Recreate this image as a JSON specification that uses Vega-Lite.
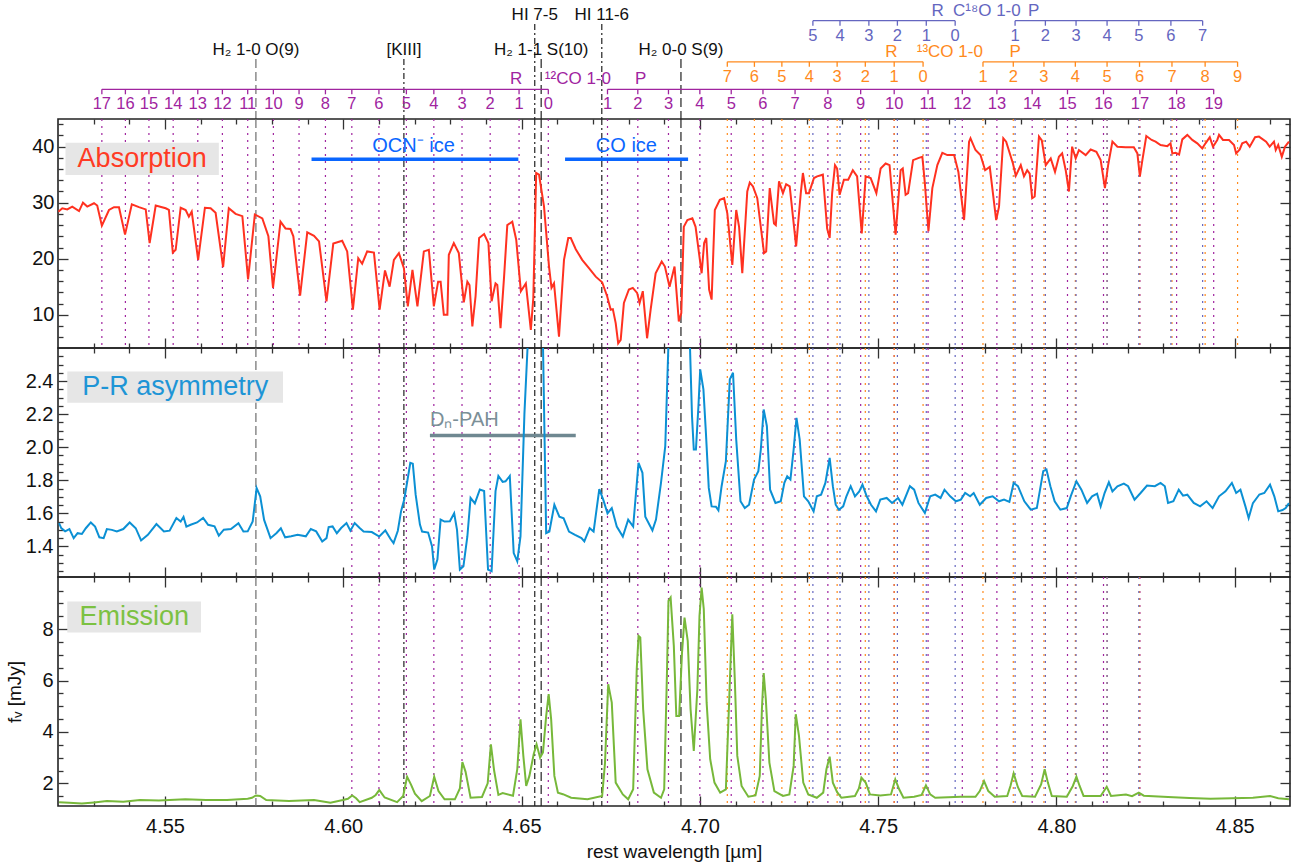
{
  "$schema": "https://vega.github.io/schema/vega-lite/v6.json",
  "background": "white",
  "padding": {"left": 5, "top": 0, "right": 6, "bottom": 0},
  "autosize": {"type": "pad"},
  "spacing": 0,
  "bounds": "flush",
  "config": {
    "font": "Liberation Sans",
    "view": {"stroke": "#222", "strokeWidth": 1.6},
    "axis": {"domain": false, "grid": false, "tickColor": "#333", "tickWidth": 1.3, "labelFont": "Liberation Sans", "labelFontSize": 20, "labelColor": "#111", "titleFont": "Liberation Sans", "titleFontSize": 19, "titleFontWeight": "normal", "titleColor": "#111"},
    "text": {"font": "Liberation Sans"}
  },
  "datasets": {
    "absorption": [
      {"lam":4.5201,"f":28.4},{"lam":4.5212,"f":29.0},{"lam":4.5226,"f":28.8},{"lam":4.5240,"f":29.3},{"lam":4.5259,"f":28.5},{"lam":4.5270,"f":30.0},{"lam":4.5282,"f":29.3},{"lam":4.5301,"f":29.9},{"lam":4.5310,"f":29.5},{"lam":4.5323,"f":25.9},
      {"lam":4.5343,"f":28.7},{"lam":4.5357,"f":29.2},{"lam":4.5371,"f":29.2},{"lam":4.5388,"f":24.3},{"lam":4.5407,"f":29.7},{"lam":4.5427,"f":29.2},{"lam":4.5446,"f":28.8},{"lam":4.5457,"f":22.8},{"lam":4.5474,"f":29.5},{"lam":4.5502,"f":29.0},
      {"lam":4.5511,"f":28.7},{"lam":4.5522,"f":21.1},{"lam":4.5530,"f":21.6},{"lam":4.5544,"f":29.1},{"lam":4.5558,"f":28.7},{"lam":4.5567,"f":27.5},{"lam":4.5575,"f":28.4},{"lam":4.5593,"f":19.8},{"lam":4.5612,"f":29.1},{"lam":4.5628,"f":29.0},
      {"lam":4.5642,"f":28.2},{"lam":4.5663,"f":18.5},{"lam":4.5679,"f":29.0},{"lam":4.5698,"f":28.0},{"lam":4.5717,"f":27.6},{"lam":4.5733,"f":16.3},{"lam":4.5752,"f":27.9},{"lam":4.5773,"f":27.2},{"lam":4.5790,"f":24.0},{"lam":4.5803,"f":14.8},
      {"lam":4.5824,"f":26.6},{"lam":4.5838,"f":25.4},{"lam":4.5852,"f":25.3},{"lam":4.5860,"f":24.0},{"lam":4.5879,"f":13.4},{"lam":4.5899,"f":24.7},{"lam":4.5918,"f":24.1},{"lam":4.5932,"f":23.1},{"lam":4.5953,"f":12.4},{"lam":4.5972,"f":22.7},
      {"lam":4.5997,"f":23.2},{"lam":4.6011,"f":21.3},{"lam":4.6027,"f":10.9},{"lam":4.6042,"f":20.1},{"lam":4.6053,"f":19.1},{"lam":4.6067,"f":21.3},{"lam":4.6086,"f":21.1},{"lam":4.6102,"f":10.9},{"lam":4.6117,"f":17.9},{"lam":4.6130,"f":15.0},
      {"lam":4.6142,"f":19.8},{"lam":4.6156,"f":21.0},{"lam":4.6170,"f":18.3},{"lam":4.6181,"f":11.5},{"lam":4.6194,"f":18.0},{"lam":4.6208,"f":11.5},{"lam":4.6226,"f":21.3},{"lam":4.6240,"f":21.6},{"lam":4.6254,"f":11.5},{"lam":4.6266,"f":15.9},
      {"lam":4.6273,"f":15.9},{"lam":4.6282,"f":10.0},{"lam":4.6292,"f":10.0},{"lam":4.6296,"f":20.7},{"lam":4.6310,"f":22.8},{"lam":4.6324,"f":21.0},{"lam":4.6338,"f":12.2},{"lam":4.6348,"f":15.9},{"lam":4.6354,"f":15.3},{"lam":4.6362,"f":7.9},
      {"lam":4.6371,"f":13.3},{"lam":4.6381,"f":23.7},{"lam":4.6395,"f":24.4},{"lam":4.6407,"f":22.8},{"lam":4.6416,"f":12.4},{"lam":4.6427,"f":15.6},{"lam":4.6432,"f":15.3},{"lam":4.6441,"f":7.6},{"lam":4.6451,"f":16.8},{"lam":4.6460,"f":26.0},
      {"lam":4.6474,"f":26.6},{"lam":4.6485,"f":23.4},{"lam":4.6498,"f":14.2},{"lam":4.6512,"f":15.6},{"lam":4.6526,"f":7.3},{"lam":4.6533,"f":13.0},{"lam":4.6541,"f":35.3},{"lam":4.6549,"f":35.0},{"lam":4.6563,"f":29.3},{"lam":4.6577,"f":18.6},
      {"lam":4.6584,"f":14.8},{"lam":4.6591,"f":15.6},{"lam":4.6605,"f":6.1},{"lam":4.6619,"f":19.8},{"lam":4.6631,"f":23.7},{"lam":4.6638,"f":23.7},{"lam":4.6652,"f":21.7},{"lam":4.6670,"f":19.8},{"lam":4.6689,"f":18.3},{"lam":4.6708,"f":16.8},
      {"lam":4.6726,"f":15.8},{"lam":4.6740,"f":13.3},{"lam":4.6750,"f":10.9},{"lam":4.6756,"f":11.0},{"lam":4.6764,"f":8.5},{"lam":4.6771,"f":4.9},{"lam":4.6778,"f":5.5},{"lam":4.6787,"f":12.1},{"lam":4.6801,"f":14.5},{"lam":4.6812,"f":14.8},
      {"lam":4.6824,"f":13.9},{"lam":4.6831,"f":12.1},{"lam":4.6840,"f":14.2},{"lam":4.6852,"f":5.8},{"lam":4.6862,"f":10.9},{"lam":4.6876,"f":17.4},{"lam":4.6893,"f":19.5},{"lam":4.6902,"f":18.6},{"lam":4.6915,"f":15.0},{"lam":4.6929,"f":18.6},
      {"lam":4.6941,"f":8.8},{"lam":4.6948,"f":10.3},{"lam":4.6955,"f":25.7},{"lam":4.6965,"f":26.9},{"lam":4.6979,"f":27.2},{"lam":4.6988,"f":25.7},{"lam":4.7005,"f":17.4},{"lam":4.7012,"f":22.8},{"lam":4.7018,"f":23.7},{"lam":4.7026,"f":14.5},
      {"lam":4.7033,"f":12.7},{"lam":4.7042,"f":28.7},{"lam":4.7056,"f":30.5},{"lam":4.7068,"f":30.8},{"lam":4.7077,"f":28.1},{"lam":4.7091,"f":18.9},{"lam":4.7102,"f":28.7},{"lam":4.7110,"f":25.7},{"lam":4.7119,"f":17.4},{"lam":4.7133,"f":32.0},
      {"lam":4.7140,"f":33.6},{"lam":4.7149,"f":32.9},{"lam":4.7161,"f":30.8},{"lam":4.7180,"f":21.0},{"lam":4.7186,"f":21.3},{"lam":4.7196,"f":32.6},{"lam":4.7208,"f":26.3},{"lam":4.7213,"f":26.0},{"lam":4.7222,"f":33.8},{"lam":4.7233,"f":31.7},
      {"lam":4.7242,"f":33.3},{"lam":4.7252,"f":32.9},{"lam":4.7270,"f":22.2},{"lam":4.7283,"f":31.7},{"lam":4.7289,"f":35.3},{"lam":4.7298,"f":31.7},{"lam":4.7306,"f":31.7},{"lam":4.7320,"f":34.4},{"lam":4.7329,"f":34.7},{"lam":4.7345,"f":35.0},
      {"lam":4.7357,"f":25.4},{"lam":4.7364,"f":23.7},{"lam":4.7371,"f":31.7},{"lam":4.7379,"f":36.7},{"lam":4.7385,"f":36.1},{"lam":4.7392,"f":31.4},{"lam":4.7404,"f":34.1},{"lam":4.7416,"f":34.1},{"lam":4.7429,"f":35.8},{"lam":4.7441,"f":34.7},
      {"lam":4.7454,"f":24.5},{"lam":4.7465,"f":34.7},{"lam":4.7479,"f":34.4},{"lam":4.7495,"f":31.7},{"lam":4.7507,"f":36.1},{"lam":4.7521,"f":37.0},{"lam":4.7532,"f":36.7},{"lam":4.7549,"f":24.3},{"lam":4.7563,"f":35.8},{"lam":4.7569,"f":36.1},
      {"lam":4.7577,"f":31.4},{"lam":4.7584,"f":31.7},{"lam":4.7598,"f":37.6},{"lam":4.7614,"f":38.0},{"lam":4.7624,"f":38.2},{"lam":4.7631,"f":33.5},{"lam":4.7641,"f":24.9},{"lam":4.7652,"f":32.6},{"lam":4.7666,"f":36.7},{"lam":4.7680,"f":38.9},
      {"lam":4.7694,"f":38.5},{"lam":4.7713,"f":38.5},{"lam":4.7725,"f":35.5},{"lam":4.7741,"f":26.9},{"lam":4.7755,"f":40.9},{"lam":4.7759,"f":41.5},{"lam":4.7773,"f":39.4},{"lam":4.7787,"f":38.5},{"lam":4.7800,"f":35.8},{"lam":4.7813,"f":36.4},
      {"lam":4.7831,"f":26.9},{"lam":4.7839,"f":29.3},{"lam":4.7851,"f":41.5},{"lam":4.7859,"f":40.9},{"lam":4.7878,"f":37.0},{"lam":4.7886,"f":34.8},{"lam":4.7900,"f":36.7},{"lam":4.7909,"f":34.7},{"lam":4.7918,"f":35.8},{"lam":4.7925,"f":35.2},
      {"lam":4.7932,"f":30.8},{"lam":4.7939,"f":31.1},{"lam":4.7951,"f":41.8},{"lam":4.7959,"f":41.1},{"lam":4.7970,"f":36.7},{"lam":4.7984,"f":37.9},{"lam":4.7996,"f":35.5},{"lam":4.8007,"f":38.2},{"lam":4.8016,"f":38.8},{"lam":4.8026,"f":35.8},
      {"lam":4.8035,"f":32.0},{"lam":4.8044,"f":40.0},{"lam":4.8054,"f":37.9},{"lam":4.8063,"f":39.4},{"lam":4.8082,"f":38.5},{"lam":4.8096,"f":39.5},{"lam":4.8112,"f":39.1},{"lam":4.8124,"f":37.6},{"lam":4.8136,"f":32.6},{"lam":4.8145,"f":36.7},
      {"lam":4.8157,"f":40.9},{"lam":4.8171,"f":40.0},{"lam":4.8194,"f":39.9},{"lam":4.8217,"f":39.9},{"lam":4.8227,"f":38.8},{"lam":4.8234,"f":34.7},{"lam":4.8241,"f":37.6},{"lam":4.8252,"f":41.9},{"lam":4.8267,"f":41.2},{"lam":4.8278,"f":40.9},
      {"lam":4.8292,"f":40.3},{"lam":4.8311,"f":40.1},{"lam":4.8320,"f":40.6},{"lam":4.8325,"f":38.8},{"lam":4.8334,"f":38.9},{"lam":4.8344,"f":38.6},{"lam":4.8353,"f":41.3},{"lam":4.8367,"f":42.1},{"lam":4.8381,"f":41.2},{"lam":4.8395,"f":40.6},
      {"lam":4.8409,"f":39.7},{"lam":4.8418,"f":40.6},{"lam":4.8430,"f":41.7},{"lam":4.8439,"f":40.0},{"lam":4.8451,"f":41.2},{"lam":4.8456,"f":42.1},{"lam":4.8467,"f":41.2},{"lam":4.8484,"f":41.2},{"lam":4.8498,"f":40.3},{"lam":4.8504,"f":38.8},
      {"lam":4.8514,"f":39.5},{"lam":4.8521,"f":40.6},{"lam":4.8532,"f":40.9},{"lam":4.8542,"f":40.0},{"lam":4.8557,"f":41.7},{"lam":4.8568,"f":41.8},{"lam":4.8588,"f":40.9},{"lam":4.8598,"f":40.0},{"lam":4.8610,"f":40.9},{"lam":4.8615,"f":39.4},
      {"lam":4.8622,"f":40.3},{"lam":4.8632,"f":38.2},{"lam":4.8641,"f":40.0},{"lam":4.8652,"f":40.9}
    ],
    "asymmetry": [
      {"lam":4.5203,"r":1.541},{"lam":4.5209,"r":1.511},{"lam":4.5220,"r":1.491},{"lam":4.5232,"r":1.505},{"lam":4.5244,"r":1.45},{"lam":4.5255,"r":1.48},{"lam":4.5267,"r":1.475},{"lam":4.5278,"r":1.51},{"lam":4.5292,"r":1.545},{"lam":4.5304,"r":1.52},
      {"lam":4.5316,"r":1.455},{"lam":4.5328,"r":1.45},{"lam":4.5337,"r":1.505},{"lam":4.5351,"r":1.5},{"lam":4.5365,"r":1.49},{"lam":4.5383,"r":1.505},{"lam":4.5401,"r":1.545},{"lam":4.5418,"r":1.51},{"lam":4.5433,"r":1.436},{"lam":4.5452,"r":1.47},
      {"lam":4.5476,"r":1.535},{"lam":4.5497,"r":1.49},{"lam":4.5513,"r":1.495},{"lam":4.5532,"r":1.572},{"lam":4.5544,"r":1.551},{"lam":4.5552,"r":1.578},{"lam":4.5560,"r":1.52},{"lam":4.5572,"r":1.531},{"lam":4.5590,"r":1.545},{"lam":4.5607,"r":1.572},
      {"lam":4.5621,"r":1.531},{"lam":4.5639,"r":1.521},{"lam":4.5651,"r":1.465},{"lam":4.5665,"r":1.501},{"lam":4.5685,"r":1.505},{"lam":4.5706,"r":1.54},{"lam":4.5720,"r":1.49},{"lam":4.5732,"r":1.491},{"lam":4.5746,"r":1.551},{"lam":4.5757,"r":1.753},
      {"lam":4.5767,"r":1.703},{"lam":4.5778,"r":1.56},{"lam":4.5796,"r":1.45},{"lam":4.5813,"r":1.481},{"lam":4.5825,"r":1.51},{"lam":4.5837,"r":1.455},{"lam":4.5854,"r":1.461},{"lam":4.5872,"r":1.47},{"lam":4.5895,"r":1.461},{"lam":4.5909,"r":1.505},
      {"lam":4.5924,"r":1.491},{"lam":4.5941,"r":1.43},{"lam":4.5953,"r":1.45},{"lam":4.5959,"r":1.517},{"lam":4.5970,"r":1.521},{"lam":4.5982,"r":1.48},{"lam":4.5994,"r":1.511},{"lam":4.6009,"r":1.541},{"lam":4.6020,"r":1.495},{"lam":4.6032,"r":1.541},
      {"lam":4.6046,"r":1.511},{"lam":4.6057,"r":1.49},{"lam":4.6080,"r":1.487},{"lam":4.6101,"r":1.46},{"lam":4.6118,"r":1.497},{"lam":4.6133,"r":1.443},{"lam":4.6141,"r":1.42},{"lam":4.6153,"r":1.495},{"lam":4.6162,"r":1.612},{"lam":4.6171,"r":1.683},
      {"lam":4.6180,"r":1.80},{"lam":4.6188,"r":1.905},{"lam":4.6195,"r":1.9},{"lam":4.6203,"r":1.713},{"lam":4.6215,"r":1.532},{"lam":4.6221,"r":1.49},{"lam":4.6238,"r":1.484},{"lam":4.6249,"r":1.40},{"lam":4.6255,"r":1.26},{"lam":4.6264,"r":1.32},
      {"lam":4.6273,"r":1.562},{"lam":4.6284,"r":1.55},{"lam":4.6299,"r":1.552},{"lam":4.6311,"r":1.60},{"lam":4.6319,"r":1.50},{"lam":4.6327,"r":1.26},{"lam":4.6337,"r":1.28},{"lam":4.6348,"r":1.46},{"lam":4.6357,"r":1.693},{"lam":4.6369,"r":1.66},
      {"lam":4.6383,"r":1.744},{"lam":4.6395,"r":1.735},{"lam":4.6406,"r":1.26},{"lam":4.6416,"r":1.25},{"lam":4.6427,"r":1.734},{"lam":4.6435,"r":1.826},{"lam":4.6447,"r":1.79},{"lam":4.6455,"r":1.794},{"lam":4.6467,"r":1.826},{"lam":4.6478,"r":1.36},
      {"lam":4.6488,"r":1.31},{"lam":4.6497,"r":1.46},{"lam":4.6508,"r":2.2},{"lam":4.6520,"r":2.75},{"lam":4.6538,"r":3.3},{"lam":4.6560,"r":2.63},{"lam":4.6569,"r":1.48},{"lam":4.6578,"r":1.49},{"lam":4.6592,"r":1.652},{"lam":4.6606,"r":1.58},
      {"lam":4.6618,"r":1.57},{"lam":4.6633,"r":1.49},{"lam":4.6650,"r":1.47},{"lam":4.6668,"r":1.45},{"lam":4.6676,"r":1.43},{"lam":4.6691,"r":1.51},{"lam":4.6702,"r":1.49},{"lam":4.6718,"r":1.747},{"lam":4.6729,"r":1.683},{"lam":4.6741,"r":1.60},
      {"lam":4.6753,"r":1.632},{"lam":4.6767,"r":1.52},{"lam":4.6784,"r":1.46},{"lam":4.6799,"r":1.562},{"lam":4.6813,"r":1.52},{"lam":4.6828,"r":1.905},{"lam":4.6839,"r":1.845},{"lam":4.6847,"r":1.58},{"lam":4.6867,"r":1.497},{"lam":4.6877,"r":1.562},
      {"lam":4.6891,"r":1.784},{"lam":4.6903,"r":2.006},{"lam":4.6912,"r":2.63},{"lam":4.6941,"r":3.5},{"lam":4.6972,"r":2.63},{"lam":4.6978,"r":2.188},{"lam":4.6983,"r":1.986},{"lam":4.6989,"r":1.986},{"lam":4.6996,"r":2.248},{"lam":4.7001,"r":2.47},
      {"lam":4.7010,"r":2.35},{"lam":4.7017,"r":2.087},{"lam":4.7025,"r":1.754},{"lam":4.7033,"r":1.642},{"lam":4.7045,"r":1.64},{"lam":4.7052,"r":1.618},{"lam":4.7061,"r":1.764},{"lam":4.7073,"r":1.915},{"lam":4.7084,"r":2.41},{"lam":4.7093,"r":2.45},
      {"lam":4.7102,"r":2.046},{"lam":4.7114,"r":1.673},{"lam":4.7126,"r":1.632},{"lam":4.7138,"r":1.652},{"lam":4.7152,"r":1.804},{"lam":4.7164,"r":1.855},{"lam":4.7171,"r":1.986},{"lam":4.7179,"r":2.228},{"lam":4.7188,"r":2.127},{"lam":4.7197,"r":1.743},
      {"lam":4.7212,"r":1.663},{"lam":4.7227,"r":1.673},{"lam":4.7237,"r":1.784},{"lam":4.7245,"r":1.824},{"lam":4.7254,"r":1.804},{"lam":4.7263,"r":1.986},{"lam":4.7271,"r":2.178},{"lam":4.7280,"r":2.046},{"lam":4.7292,"r":1.703},{"lam":4.7304,"r":1.673},
      {"lam":4.7319,"r":1.612},{"lam":4.7328,"r":1.703},{"lam":4.7340,"r":1.713},{"lam":4.7352,"r":1.784},{"lam":4.7364,"r":1.935},{"lam":4.7373,"r":1.764},{"lam":4.7381,"r":1.652},{"lam":4.7390,"r":1.622},{"lam":4.7402,"r":1.642},{"lam":4.7411,"r":1.703},
      {"lam":4.7423,"r":1.764},{"lam":4.7435,"r":1.703},{"lam":4.7447,"r":1.733},{"lam":4.7456,"r":1.774},{"lam":4.7468,"r":1.703},{"lam":4.7480,"r":1.652},{"lam":4.7494,"r":1.612},{"lam":4.7506,"r":1.683},{"lam":4.7524,"r":1.693},{"lam":4.7539,"r":1.663},
      {"lam":4.7556,"r":1.693},{"lam":4.7568,"r":1.652},{"lam":4.7589,"r":1.764},{"lam":4.7601,"r":1.743},{"lam":4.7613,"r":1.663},{"lam":4.7631,"r":1.602},{"lam":4.7646,"r":1.703},{"lam":4.7660,"r":1.713},{"lam":4.7675,"r":1.693},{"lam":4.7686,"r":1.743},
      {"lam":4.7702,"r":1.703},{"lam":4.7718,"r":1.673},{"lam":4.7732,"r":1.683},{"lam":4.7744,"r":1.723},{"lam":4.7758,"r":1.703},{"lam":4.7768,"r":1.723},{"lam":4.7785,"r":1.652},{"lam":4.7803,"r":1.693},{"lam":4.7821,"r":1.703},{"lam":4.7839,"r":1.673},
      {"lam":4.7853,"r":1.683},{"lam":4.7868,"r":1.669},{"lam":4.7880,"r":1.784},{"lam":4.7892,"r":1.764},{"lam":4.7910,"r":1.673},{"lam":4.7928,"r":1.622},{"lam":4.7945,"r":1.632},{"lam":4.7963,"r":1.855},{"lam":4.7972,"r":1.865},{"lam":4.7983,"r":1.764},
      {"lam":4.7995,"r":1.673},{"lam":4.8011,"r":1.622},{"lam":4.8029,"r":1.632},{"lam":4.8040,"r":1.703},{"lam":4.8056,"r":1.794},{"lam":4.8070,"r":1.743},{"lam":4.8086,"r":1.663},{"lam":4.8100,"r":1.703},{"lam":4.8114,"r":1.719},{"lam":4.8124,"r":1.642},
      {"lam":4.8135,"r":1.723},{"lam":4.8147,"r":1.788},{"lam":4.8157,"r":1.733},{"lam":4.8171,"r":1.764},{"lam":4.8189,"r":1.78},{"lam":4.8201,"r":1.764},{"lam":4.8219,"r":1.683},{"lam":4.8236,"r":1.723},{"lam":4.8254,"r":1.768},{"lam":4.8276,"r":1.764},
      {"lam":4.8292,"r":1.784},{"lam":4.8304,"r":1.764},{"lam":4.8313,"r":1.663},{"lam":4.8328,"r":1.673},{"lam":4.8343,"r":1.743},{"lam":4.8355,"r":1.707},{"lam":4.8367,"r":1.713},{"lam":4.8385,"r":1.663},{"lam":4.8403,"r":1.642},{"lam":4.8421,"r":1.673},
      {"lam":4.8438,"r":1.632},{"lam":4.8456,"r":1.703},{"lam":4.8474,"r":1.733},{"lam":4.8492,"r":1.784},{"lam":4.8504,"r":1.723},{"lam":4.8516,"r":1.743},{"lam":4.8530,"r":1.642},{"lam":4.8539,"r":1.572},{"lam":4.8551,"r":1.662},{"lam":4.8569,"r":1.714},
      {"lam":4.8583,"r":1.723},{"lam":4.8599,"r":1.774},{"lam":4.8611,"r":1.703},{"lam":4.8622,"r":1.612},{"lam":4.8634,"r":1.62},{"lam":4.8643,"r":1.632},{"lam":4.8652,"r":1.662}
    ],
    "emission": [
      {"lam":4.5203,"f":1.27},{"lam":4.5231,"f":1.25},{"lam":4.5267,"f":1.22},{"lam":4.5301,"f":1.26},{"lam":4.5337,"f":1.31},{"lam":4.5383,"f":1.29},{"lam":4.5430,"f":1.35},{"lam":4.5483,"f":1.33},{"lam":4.5557,"f":1.38},{"lam":4.5615,"f":1.35},
      {"lam":4.5674,"f":1.35},{"lam":4.5732,"f":1.40},{"lam":4.5744,"f":1.44},{"lam":4.5755,"f":1.53},{"lam":4.5767,"f":1.51},{"lam":4.5784,"f":1.35},{"lam":4.5848,"f":1.31},{"lam":4.5918,"f":1.35},{"lam":4.5964,"f":1.25},{"lam":4.5999,"f":1.35},
      {"lam":4.6013,"f":1.40},{"lam":4.6025,"f":1.53},{"lam":4.6036,"f":1.42},{"lam":4.6046,"f":1.27},{"lam":4.6080,"f":1.44},{"lam":4.6091,"f":1.55},{"lam":4.6101,"f":1.74},{"lam":4.6116,"f":1.45},{"lam":4.6151,"f":1.27},{"lam":4.6168,"f":1.51},
      {"lam":4.6179,"f":2.26},{"lam":4.6190,"f":1.95},{"lam":4.6201,"f":1.60},{"lam":4.6220,"f":1.31},{"lam":4.6243,"f":1.51},{"lam":4.6255,"f":2.26},{"lam":4.6267,"f":1.70},{"lam":4.6284,"f":1.38},{"lam":4.6313,"f":1.38},{"lam":4.6327,"f":1.80},
      {"lam":4.6334,"f":2.83},{"lam":4.6343,"f":2.45},{"lam":4.6357,"f":1.44},{"lam":4.6389,"f":1.47},{"lam":4.6405,"f":2.00},{"lam":4.6414,"f":3.52},{"lam":4.6423,"f":2.50},{"lam":4.6435,"f":1.55},{"lam":4.6447,"f":1.62},{"lam":4.6476,"f":1.52},
      {"lam":4.6488,"f":2.55},{"lam":4.6497,"f":4.49},{"lam":4.6505,"f":3.07},{"lam":4.6513,"f":1.90},{"lam":4.6522,"f":2.29},{"lam":4.6534,"f":3.13},{"lam":4.6542,"f":3.52},{"lam":4.6552,"f":3.00},{"lam":4.6560,"f":3.20},{"lam":4.6569,"f":4.62},
      {"lam":4.6576,"f":5.47},{"lam":4.6583,"f":4.49},{"lam":4.6592,"f":2.29},{"lam":4.6602,"f":1.64},{"lam":4.6616,"f":1.58},{"lam":4.6639,"f":1.44},{"lam":4.6685,"f":1.38},{"lam":4.6726,"f":1.51},{"lam":4.6734,"f":2.80},{"lam":4.6743,"f":5.86},
      {"lam":4.6753,"f":5.14},{"lam":4.6764,"f":2.03},{"lam":4.6784,"f":1.57},{"lam":4.6799,"f":1.38},{"lam":4.6813,"f":1.77},{"lam":4.6823,"f":6.44},{"lam":4.6828,"f":7.74},{"lam":4.6833,"f":7.68},{"lam":4.6841,"f":4.88},{"lam":4.6853,"f":2.55},
      {"lam":4.6871,"f":1.64},{"lam":4.6891,"f":1.44},{"lam":4.6900,"f":1.77},{"lam":4.6908,"f":6.44},{"lam":4.6912,"f":9.10},{"lam":4.6918,"f":9.23},{"lam":4.6927,"f":7.35},{"lam":4.6934,"f":4.62},{"lam":4.6942,"f":4.62},{"lam":4.6950,"f":7.09},
      {"lam":4.6957,"f":8.45},{"lam":4.6966,"f":7.55},{"lam":4.6974,"f":4.88},{"lam":4.6983,"f":3.26},{"lam":4.6993,"f":5.66},{"lam":4.6999,"f":8.52},{"lam":4.7005,"f":9.62},{"lam":4.7011,"f":8.78},{"lam":4.7019,"f":5.14},{"lam":4.7029,"f":2.94},
      {"lam":4.7041,"f":2.03},{"lam":4.7057,"f":1.64},{"lam":4.7073,"f":1.77},{"lam":4.7082,"f":5.14},{"lam":4.7091,"f":8.58},{"lam":4.7098,"f":6.05},{"lam":4.7105,"f":3.07},{"lam":4.7117,"f":1.90},{"lam":4.7136,"f":1.48},{"lam":4.7156,"f":1.53},
      {"lam":4.7168,"f":2.29},{"lam":4.7174,"f":4.88},{"lam":4.7179,"f":6.29},{"lam":4.7185,"f":5.27},{"lam":4.7195,"f":2.81},{"lam":4.7209,"f":1.70},{"lam":4.7233,"f":1.51},{"lam":4.7251,"f":1.57},{"lam":4.7263,"f":2.68},{"lam":4.7269,"f":4.69},
      {"lam":4.7278,"f":3.85},{"lam":4.7290,"f":2.03},{"lam":4.7304,"f":1.57},{"lam":4.7328,"f":1.44},{"lam":4.7346,"f":1.64},{"lam":4.7355,"f":2.55},{"lam":4.7364,"f":3.04},{"lam":4.7373,"f":2.03},{"lam":4.7385,"f":1.66},{"lam":4.7397,"f":1.44},
      {"lam":4.7435,"f":1.51},{"lam":4.7446,"f":1.80},{"lam":4.7453,"f":2.22},{"lam":4.7465,"f":2.03},{"lam":4.7477,"f":1.57},{"lam":4.7506,"f":1.53},{"lam":4.7536,"f":1.57},{"lam":4.7548,"f":2.16},{"lam":4.7559,"f":1.77},{"lam":4.7571,"f":1.44},
      {"lam":4.7601,"f":1.48},{"lam":4.7622,"f":1.55},{"lam":4.7634,"f":1.92},{"lam":4.7646,"f":1.57},{"lam":4.7660,"f":1.44},{"lam":4.7732,"f":1.48},{"lam":4.7773,"f":1.48},{"lam":4.7785,"f":1.70},{"lam":4.7797,"f":2.09},{"lam":4.7809,"f":1.70},
      {"lam":4.7827,"f":1.48},{"lam":4.7862,"f":1.51},{"lam":4.7871,"f":1.90},{"lam":4.7880,"f":2.39},{"lam":4.7892,"f":1.85},{"lam":4.7904,"f":1.51},{"lam":4.7940,"f":1.48},{"lam":4.7957,"f":1.96},{"lam":4.7967,"f":2.55},{"lam":4.7976,"f":2.03},
      {"lam":4.7987,"f":1.51},{"lam":4.8029,"f":1.48},{"lam":4.8046,"f":1.90},{"lam":4.8056,"f":2.26},{"lam":4.8065,"f":1.90},{"lam":4.8076,"f":1.51},{"lam":4.8124,"f":1.51},{"lam":4.8141,"f":1.87},{"lam":4.8153,"f":1.51},{"lam":4.8195,"f":1.57},
      {"lam":4.8212,"f":1.50},{"lam":4.8231,"f":1.64},{"lam":4.8245,"f":1.52},{"lam":4.8313,"f":1.47},{"lam":4.8373,"f":1.43},{"lam":4.8432,"f":1.40},{"lam":4.8492,"f":1.42},{"lam":4.8551,"f":1.44},{"lam":4.8599,"f":1.51},{"lam":4.8622,"f":1.42},
      {"lam":4.8652,"f":1.38}
    ],
    "colines": [
      {"iso":"12CO","branch":"R","J":0,"lam":4.6575},{"iso":"12CO","branch":"R","J":1,"lam":4.6493},{"iso":"12CO","branch":"R","J":2,"lam":4.6412},{"iso":"12CO","branch":"R","J":3,"lam":4.6333},{"iso":"12CO","branch":"R","J":4,"lam":4.6254},{"iso":"12CO","branch":"R","J":5,"lam":4.6177},
      {"iso":"12CO","branch":"R","J":6,"lam":4.6100},{"iso":"12CO","branch":"R","J":7,"lam":4.6024},{"iso":"12CO","branch":"R","J":8,"lam":4.5950},{"iso":"12CO","branch":"R","J":9,"lam":4.5876},{"iso":"12CO","branch":"R","J":10,"lam":4.5804},{"iso":"12CO","branch":"R","J":11,"lam":4.5732},
      {"iso":"12CO","branch":"R","J":12,"lam":4.5661},{"iso":"12CO","branch":"R","J":13,"lam":4.5592},{"iso":"12CO","branch":"R","J":14,"lam":4.5523},{"iso":"12CO","branch":"R","J":15,"lam":4.5455},{"iso":"12CO","branch":"R","J":16,"lam":4.5389},{"iso":"12CO","branch":"R","J":17,"lam":4.5323},
      {"iso":"12CO","branch":"P","J":1,"lam":4.6741},{"iso":"12CO","branch":"P","J":2,"lam":4.6826},{"iso":"12CO","branch":"P","J":3,"lam":4.6912},{"iso":"12CO","branch":"P","J":4,"lam":4.7000},{"iso":"12CO","branch":"P","J":5,"lam":4.7088},{"iso":"12CO","branch":"P","J":6,"lam":4.7177},
      {"iso":"12CO","branch":"P","J":7,"lam":4.7267},{"iso":"12CO","branch":"P","J":8,"lam":4.7359},{"iso":"12CO","branch":"P","J":9,"lam":4.7451},{"iso":"12CO","branch":"P","J":10,"lam":4.7545},{"iso":"12CO","branch":"P","J":11,"lam":4.7640},{"iso":"12CO","branch":"P","J":12,"lam":4.7736},
      {"iso":"12CO","branch":"P","J":13,"lam":4.7833},{"iso":"12CO","branch":"P","J":14,"lam":4.7932},{"iso":"12CO","branch":"P","J":15,"lam":4.8031},{"iso":"12CO","branch":"P","J":16,"lam":4.8132},{"iso":"12CO","branch":"P","J":17,"lam":4.8234},{"iso":"12CO","branch":"P","J":18,"lam":4.8337},
      {"iso":"12CO","branch":"P","J":19,"lam":4.8441},
      {"iso":"13CO","branch":"R","J":0,"lam":4.7626},{"iso":"13CO","branch":"R","J":1,"lam":4.7545},{"iso":"13CO","branch":"R","J":2,"lam":4.7464},{"iso":"13CO","branch":"R","J":3,"lam":4.7385},{"iso":"13CO","branch":"R","J":4,"lam":4.7307},{"iso":"13CO","branch":"R","J":5,"lam":4.7230},
      {"iso":"13CO","branch":"R","J":6,"lam":4.7153},{"iso":"13CO","branch":"R","J":7,"lam":4.7077},
      {"iso":"13CO","branch":"P","J":1,"lam":4.7794},{"iso":"13CO","branch":"P","J":2,"lam":4.7879},{"iso":"13CO","branch":"P","J":3,"lam":4.7965},{"iso":"13CO","branch":"P","J":4,"lam":4.8053},{"iso":"13CO","branch":"P","J":5,"lam":4.8142},{"iso":"13CO","branch":"P","J":6,"lam":4.8233},
      {"iso":"13CO","branch":"P","J":7,"lam":4.8324},{"iso":"13CO","branch":"P","J":8,"lam":4.8417},{"iso":"13CO","branch":"P","J":9,"lam":4.8508},
      {"iso":"C18O","branch":"R","J":0,"lam":4.7716},{"iso":"C18O","branch":"R","J":1,"lam":4.7635},{"iso":"C18O","branch":"R","J":2,"lam":4.7554},{"iso":"C18O","branch":"R","J":3,"lam":4.7474},{"iso":"C18O","branch":"R","J":4,"lam":4.7393},{"iso":"C18O","branch":"R","J":5,"lam":4.7317},
      {"iso":"C18O","branch":"P","J":1,"lam":4.7884},{"iso":"C18O","branch":"P","J":2,"lam":4.7969},{"iso":"C18O","branch":"P","J":3,"lam":4.8055},{"iso":"C18O","branch":"P","J":4,"lam":4.8142},{"iso":"C18O","branch":"P","J":5,"lam":4.8231},{"iso":"C18O","branch":"P","J":6,"lam":4.8321},
      {"iso":"C18O","branch":"P","J":7,"lam":4.8410}
    ],
    "brackets": [
      {"iso":"12CO","branch":"R","lo":4.5323,"hi":4.6575},{"iso":"12CO","branch":"P","lo":4.6741,"hi":4.8441},
      {"iso":"13CO","branch":"R","lo":4.7077,"hi":4.7626},{"iso":"13CO","branch":"P","lo":4.7794,"hi":4.8508},
      {"iso":"C18O","branch":"R","lo":4.7317,"hi":4.7716},{"iso":"C18O","branch":"P","lo":4.7884,"hi":4.8410}
    ],
    "isolabels": [
      {"iso":"12CO","text":"R","lam":4.6485},{"iso":"12CO","text":"¹²CO 1-0","lam":4.6658},{"iso":"12CO","text":"P","lam":4.6834},
      {"iso":"13CO","text":"R","lam":4.7537},{"iso":"13CO","text":"¹³CO 1-0","lam":4.7701},{"iso":"13CO","text":"P","lam":4.7884},
      {"iso":"C18O","text":"R","lam":4.7667},{"iso":"C18O","text":"C¹⁸O 1-0","lam":4.7805},{"iso":"C18O","text":"P","lam":4.7936}
    ],
    "atomic": [
      {"name":"H₂ 1-0 O(9)","lam":4.5755,"species":"H2","tier":"lower"},
      {"name":"[KIII]","lam":4.6170,"species":"K","tier":"lower"},
      {"name":"HI 7-5","lam":4.6537,"species":"HI","tier":"upper"},
      {"name":"H₂ 1-1 S(10)","lam":4.6555,"species":"H2","tier":"lower"},
      {"name":"HI 11-6","lam":4.6725,"species":"HI","tier":"upper"},
      {"name":"H₂ 0-0 S(9)","lam":4.6947,"species":"H2","tier":"lower"}
    ],
    "ices": [
      {"name":"OCN⁻ ice","lo":4.5911,"hi":4.6491,"mid":4.6197,"level":37.75},
      {"name":"CO ice","lo":4.6622,"hi":4.6967,"mid":4.6794,"level":37.75}
    ],
    "pah": [
      {"name":"Dₙ-PAH","lo":4.6243,"hi":4.6652,"level":2.071}
    ]
  },
  "vconcat": [
    {
      "width": 1232,
      "height": 119,
      "view": {"stroke": null},
      "resolve": {"scale": {"y": "independent"}},
      "layer": [
        {
          "data": {"name": "atomic"},
          "mark": {"type": "rule", "yOffset": 9, "strokeWidth": 1.2},
          "encoding": {
            "x": {"field": "lam", "type": "quantitative", "scale": {"domain": [4.52, 4.8655], "nice": false, "zero": false}, "axis": null},
            "y": {"field": "tier", "type": "nominal", "scale": {"type": "point", "domain": ["upper", "lower"], "range": [15, 50], "padding": 0}, "axis": null},
            "y2": {"value": "height"},
            "stroke": {"field": "name", "type": "nominal", "scale": {"domain": ["H₂ 1-0 O(9)", "[KIII]", "HI 7-5", "H₂ 1-1 S(10)", "HI 11-6", "H₂ 0-0 S(9)"], "range": ["#6e6e6e", "#222", "#222", "#222", "#222", "#222"]}, "legend": null},
            "strokeDash": {"field": "species", "type": "nominal", "scale": {"domain": ["H2", "HI", "K"], "range": [[9, 4], [6, 3, 2, 3], [6, 3, 2, 3]]}, "legend": null}
          }
        },
        {
          "data": {"name": "atomic"},
          "mark": {"type": "text", "fontSize": 17, "color": "#111", "baseline": "middle"},
          "encoding": {
            "x": {"field": "lam", "type": "quantitative", "axis": null},
            "y": {"field": "tier", "type": "nominal", "scale": {"type": "point", "domain": ["upper", "lower"], "range": [15, 50], "padding": 0}, "axis": null},
            "text": {"field": "name"}
          }
        },
        {
          "data": {"name": "brackets"},
          "mark": {"type": "rule", "strokeWidth": 1.3},
          "encoding": {
            "x": {"field": "lo", "type": "quantitative", "axis": null},
            "x2": {"field": "hi"},
            "y": {"field": "iso", "type": "nominal", "scale": {"type": "point", "domain": ["C18O", "gap1", "gap2", "13CO", "gap3", "12CO"], "range": [20.7, 89.3], "padding": 0}, "axis": null},
            "color": {"field": "iso", "type": "nominal", "scale": {"domain": ["12CO", "13CO", "C18O"], "range": ["#a0249f", "#ff8a1c", "#6466c0"]}, "legend": null}
          }
        },
        {
          "data": {"name": "colines"},
          "mark": {"type": "rule", "strokeWidth": 1.3, "y2Offset": 5},
          "encoding": {
            "x": {"field": "lam", "type": "quantitative", "axis": null},
            "y": {"field": "iso", "type": "nominal", "scale": {"type": "point", "domain": ["C18O", "gap1", "gap2", "13CO", "gap3", "12CO"], "range": [20.7, 89.3], "padding": 0}, "axis": null},
            "y2": {"field": "iso"},
            "color": {"field": "iso", "type": "nominal", "scale": {"domain": ["12CO", "13CO", "C18O"], "range": ["#a0249f", "#ff8a1c", "#6466c0"]}, "legend": null}
          }
        },
        {
          "data": {"name": "colines"},
          "mark": {"type": "text", "fontSize": 16.5, "dy": 15, "baseline": "middle"},
          "encoding": {
            "x": {"field": "lam", "type": "quantitative", "axis": null},
            "y": {"field": "iso", "type": "nominal", "scale": {"type": "point", "domain": ["C18O", "gap1", "gap2", "13CO", "gap3", "12CO"], "range": [20.7, 89.3], "padding": 0}, "axis": null},
            "text": {"field": "J", "type": "quantitative"},
            "color": {"field": "iso", "type": "nominal", "scale": {"domain": ["12CO", "13CO", "C18O"], "range": ["#a0249f", "#ff8a1c", "#6466c0"]}, "legend": null}
          }
        },
        {
          "data": {"name": "isolabels"},
          "mark": {"type": "text", "fontSize": 17, "dy": -10, "baseline": "middle"},
          "encoding": {
            "x": {"field": "lam", "type": "quantitative", "axis": null},
            "y": {"field": "iso", "type": "nominal", "scale": {"type": "point", "domain": ["C18O", "gap1", "gap2", "13CO", "gap3", "12CO"], "range": [20.7, 89.3], "padding": 0}, "axis": null},
            "text": {"field": "text"},
            "color": {"field": "iso", "type": "nominal", "scale": {"domain": ["12CO", "13CO", "C18O"], "range": ["#a0249f", "#ff8a1c", "#6466c0"]}, "legend": null}
          }
        }
      ]
    },
    {
      "width": 1232,
      "height": 229,
      "resolve": {"axis": {"x": "independent", "y": "independent"}},
      "layer": [
        {
          "data": {"values": []},
          "mark": {"type": "point", "opacity": 0},
          "encoding": {
            "x": {"field": "w", "type": "quantitative", "scale": {"domain": [4.52, 4.8655], "nice": false, "zero": false}, "axis": {"orient": "bottom", "values": [4.55, 4.6, 4.65, 4.7, 4.75, 4.8, 4.85], "tickSize": -10, "labels": false, "title": null}},
            "y": {"field": "v", "type": "quantitative", "scale": {"domain": [4.06, 44.94], "nice": false, "zero": false}, "axis": {"orient": "left", "values": [10, 20, 30, 40], "tickSize": -10, "labelPadding": 14, "title": null}}
          }
        },
        {
          "data": {"values": []},
          "mark": {"type": "point", "opacity": 0},
          "encoding": {
            "x": {"field": "w", "type": "quantitative", "axis": {"orient": "top", "values": [4.55, 4.6, 4.65, 4.7, 4.75, 4.8, 4.85], "tickSize": -10, "labels": false, "title": null}},
            "y": {"field": "v", "type": "quantitative", "axis": {"orient": "right", "values": [10, 20, 30, 40], "tickSize": -10, "labels": false, "title": null}}
          }
        },
        {
          "data": {"values": []},
          "mark": {"type": "point", "opacity": 0},
          "encoding": {
            "x": {"field": "w", "type": "quantitative", "axis": {"orient": "bottom", "values": [4.53, 4.54, 4.56, 4.57, 4.58, 4.59, 4.61, 4.62, 4.63, 4.64, 4.66, 4.67, 4.68, 4.69, 4.71, 4.72, 4.73, 4.74, 4.76, 4.77, 4.78, 4.79, 4.81, 4.82, 4.83, 4.84, 4.86], "tickSize": -5, "labels": false, "title": null}},
            "y": {"field": "v", "type": "quantitative", "axis": {"orient": "left", "values": [6, 8, 12, 14, 16, 18, 22, 24, 26, 28, 32, 34, 36, 38, 42, 44], "tickSize": -5, "labels": false, "title": null}}
          }
        },
        {
          "data": {"values": []},
          "mark": {"type": "point", "opacity": 0},
          "encoding": {
            "x": {"field": "w", "type": "quantitative", "axis": {"orient": "top", "values": [4.53, 4.54, 4.56, 4.57, 4.58, 4.59, 4.61, 4.62, 4.63, 4.64, 4.66, 4.67, 4.68, 4.69, 4.71, 4.72, 4.73, 4.74, 4.76, 4.77, 4.78, 4.79, 4.81, 4.82, 4.83, 4.84, 4.86], "tickSize": -5, "labels": false, "title": null}},
            "y": {"field": "v", "type": "quantitative", "axis": {"orient": "right", "values": [6, 8, 12, 14, 16, 18, 22, 24, 26, 28, 32, 34, 36, 38, 42, 44], "tickSize": -5, "labels": false, "title": null}}
          }
        },
        {
          "data": {"name": "colines"},
          "mark": {"type": "rule", "strokeWidth": 1.2, "strokeDash": [2, 5]},
          "encoding": {
            "x": {"field": "lam", "type": "quantitative", "axis": null},
            "color": {"field": "iso", "type": "nominal", "scale": {"domain": ["12CO", "13CO", "C18O"], "range": ["#a0249f", "#ff8a1c", "#6466c0"]}, "legend": null}
          }
        },
        {
          "data": {"name": "atomic"},
          "mark": {"type": "rule", "strokeWidth": 1.2},
          "encoding": {
            "x": {"field": "lam", "type": "quantitative", "axis": null},
            "stroke": {"field": "name", "type": "nominal", "scale": {"domain": ["H₂ 1-0 O(9)", "[KIII]", "HI 7-5", "H₂ 1-1 S(10)", "HI 11-6", "H₂ 0-0 S(9)"], "range": ["#6e6e6e", "#222", "#222", "#222", "#222", "#222"]}, "legend": null},
            "strokeDash": {"field": "species", "type": "nominal", "scale": {"domain": ["H2", "HI", "K"], "range": [[9, 4], [6, 3, 2, 3], [6, 3, 2, 3]]}, "legend": null}
          }
        },
        {
          "data": {"name": "ices"},
          "mark": {"type": "rule", "strokeWidth": 3.5, "color": "#0a66ff"},
          "encoding": {
            "x": {"field": "lo", "type": "quantitative", "axis": null},
            "x2": {"field": "hi"},
            "y": {"field": "level", "type": "quantitative", "axis": null}
          }
        },
        {
          "data": {"name": "ices"},
          "mark": {"type": "text", "fontSize": 20, "color": "#0a66ff", "dy": -13, "baseline": "middle"},
          "encoding": {
            "x": {"field": "mid", "type": "quantitative", "axis": null},
            "y": {"field": "level", "type": "quantitative", "axis": null},
            "text": {"field": "name"}
          }
        },
        {
          "data": {"values": [{}]},
          "mark": {"type": "rect", "color": "#e6e6e6"},
          "encoding": {
            "x": {"datum": 4.5221, "type": "quantitative", "axis": null},
            "x2": {"datum": 4.5651},
            "y": {"datum": 34.95, "type": "quantitative", "axis": null},
            "y2": {"datum": 40.72}
          }
        },
        {
          "data": {"values": [{}]},
          "mark": {"type": "text", "fontSize": 27, "color": "#ff3b24", "baseline": "middle", "text": "Absorption"},
          "encoding": {
            "x": {"datum": 4.5436, "type": "quantitative", "axis": null},
            "y": {"datum": 37.84, "type": "quantitative", "axis": null}
          }
        },
        {
          "data": {"name": "absorption"},
          "mark": {"type": "line", "color": "#ff3120", "strokeWidth": 2, "clip": true},
          "encoding": {
            "x": {"field": "lam", "type": "quantitative", "axis": null},
            "y": {"field": "f", "type": "quantitative", "axis": null}
          }
        }
      ]
    },
    {
      "width": 1232,
      "height": 229,
      "resolve": {"axis": {"x": "independent", "y": "independent"}},
      "layer": [
        {
          "data": {"values": []},
          "mark": {"type": "point", "opacity": 0},
          "encoding": {
            "x": {"field": "w", "type": "quantitative", "scale": {"domain": [4.52, 4.8655], "nice": false, "zero": false}, "axis": {"orient": "bottom", "values": [4.55, 4.6, 4.65, 4.7, 4.75, 4.8, 4.85], "tickSize": -10, "labels": false, "title": null}},
            "y": {"field": "v", "type": "quantitative", "scale": {"domain": [1.215, 2.6], "nice": false, "zero": false}, "axis": {"orient": "left", "values": [1.4, 1.6, 1.8, 2.0, 2.2, 2.4], "format": ".1f", "tickSize": -10, "labelPadding": 15, "title": null}}
          }
        },
        {
          "data": {"values": []},
          "mark": {"type": "point", "opacity": 0},
          "encoding": {
            "x": {"field": "w", "type": "quantitative", "axis": {"orient": "top", "values": [4.55, 4.6, 4.65, 4.7, 4.75, 4.8, 4.85], "tickSize": -10, "labels": false, "title": null}},
            "y": {"field": "v", "type": "quantitative", "axis": {"orient": "right", "values": [1.4, 1.6, 1.8, 2.0, 2.2, 2.4], "tickSize": -10, "labels": false, "title": null}}
          }
        },
        {
          "data": {"values": []},
          "mark": {"type": "point", "opacity": 0},
          "encoding": {
            "x": {"field": "w", "type": "quantitative", "axis": {"orient": "bottom", "values": [4.53, 4.54, 4.56, 4.57, 4.58, 4.59, 4.61, 4.62, 4.63, 4.64, 4.66, 4.67, 4.68, 4.69, 4.71, 4.72, 4.73, 4.74, 4.76, 4.77, 4.78, 4.79, 4.81, 4.82, 4.83, 4.84, 4.86], "tickSize": -5, "labels": false, "title": null}},
            "y": {"field": "v", "type": "quantitative", "axis": {"orient": "left", "values": [1.25, 1.3, 1.35, 1.45, 1.5, 1.55, 1.65, 1.7, 1.75, 1.85, 1.9, 1.95, 2.05, 2.1, 2.15, 2.25, 2.3, 2.35, 2.45, 2.5, 2.55], "tickSize": -5, "labels": false, "title": null}}
          }
        },
        {
          "data": {"values": []},
          "mark": {"type": "point", "opacity": 0},
          "encoding": {
            "x": {"field": "w", "type": "quantitative", "axis": {"orient": "top", "values": [4.53, 4.54, 4.56, 4.57, 4.58, 4.59, 4.61, 4.62, 4.63, 4.64, 4.66, 4.67, 4.68, 4.69, 4.71, 4.72, 4.73, 4.74, 4.76, 4.77, 4.78, 4.79, 4.81, 4.82, 4.83, 4.84, 4.86], "tickSize": -5, "labels": false, "title": null}},
            "y": {"field": "v", "type": "quantitative", "axis": {"orient": "right", "values": [1.25, 1.3, 1.35, 1.45, 1.5, 1.55, 1.65, 1.7, 1.75, 1.85, 1.9, 1.95, 2.05, 2.1, 2.15, 2.25, 2.3, 2.35, 2.45, 2.5, 2.55], "tickSize": -5, "labels": false, "title": null}}
          }
        },
        {
          "data": {"name": "colines"},
          "transform": [{"filter": "datum.lam >= 4.60 && datum.lam <= 4.806"}],
          "mark": {"type": "rule", "strokeWidth": 1.2, "strokeDash": [2, 5]},
          "encoding": {
            "x": {"field": "lam", "type": "quantitative", "axis": null},
            "color": {"field": "iso", "type": "nominal", "scale": {"domain": ["12CO", "13CO", "C18O"], "range": ["#a0249f", "#ff8a1c", "#6466c0"]}, "legend": null}
          }
        },
        {
          "data": {"name": "atomic"},
          "mark": {"type": "rule", "strokeWidth": 1.2},
          "encoding": {
            "x": {"field": "lam", "type": "quantitative", "axis": null},
            "stroke": {"field": "name", "type": "nominal", "scale": {"domain": ["H₂ 1-0 O(9)", "[KIII]", "HI 7-5", "H₂ 1-1 S(10)", "HI 11-6", "H₂ 0-0 S(9)"], "range": ["#6e6e6e", "#222", "#222", "#222", "#222", "#222"]}, "legend": null},
            "strokeDash": {"field": "species", "type": "nominal", "scale": {"domain": ["H2", "HI", "K"], "range": [[9, 4], [6, 3, 2, 3], [6, 3, 2, 3]]}, "legend": null}
          }
        },
        {
          "data": {"name": "pah"},
          "mark": {"type": "rule", "strokeWidth": 3.5, "color": "#6f8891"},
          "encoding": {
            "x": {"field": "lo", "type": "quantitative", "axis": null},
            "x2": {"field": "hi"},
            "y": {"field": "level", "type": "quantitative", "axis": null}
          }
        },
        {
          "data": {"name": "pah"},
          "mark": {"type": "text", "fontSize": 20, "color": "#7b8f97", "dy": -15, "align": "left", "baseline": "middle"},
          "encoding": {
            "x": {"field": "lo", "type": "quantitative", "axis": null},
            "y": {"field": "level", "type": "quantitative", "axis": null},
            "text": {"field": "name"}
          }
        },
        {
          "data": {"values": [{}]},
          "mark": {"type": "rect", "color": "#e6e6e6"},
          "encoding": {
            "x": {"datum": 4.5226, "type": "quantitative", "axis": null},
            "x2": {"datum": 4.5831},
            "y": {"datum": 2.2687, "type": "quantitative", "axis": null},
            "y2": {"datum": 2.4586}
          }
        },
        {
          "data": {"values": [{}]},
          "mark": {"type": "text", "fontSize": 27, "color": "#1e95d6", "baseline": "middle", "text": "P-R asymmetry"},
          "encoding": {
            "x": {"datum": 4.5529, "type": "quantitative", "axis": null},
            "y": {"datum": 2.3636, "type": "quantitative", "axis": null}
          }
        },
        {
          "data": {"name": "asymmetry"},
          "mark": {"type": "line", "color": "#0b90d4", "strokeWidth": 2, "clip": true},
          "encoding": {
            "x": {"field": "lam", "type": "quantitative", "axis": null},
            "y": {"field": "r", "type": "quantitative", "axis": null}
          }
        }
      ]
    },
    {
      "width": 1232,
      "height": 229,
      "resolve": {"axis": {"x": "independent", "y": "independent"}},
      "layer": [
        {
          "data": {"values": []},
          "mark": {"type": "point", "opacity": 0},
          "encoding": {
            "x": {"field": "w", "type": "quantitative", "scale": {"domain": [4.52, 4.8655], "nice": false, "zero": false}, "axis": {"orient": "bottom", "values": [4.55, 4.6, 4.65, 4.7, 4.75, 4.8, 4.85], "format": ".2f", "tickSize": -10, "labelPadding": 20, "title": "rest wavelength [µm]", "titlePadding": 6}},
            "y": {"field": "v", "type": "quantitative", "scale": {"domain": [1.12, 10.03], "nice": false, "zero": false}, "axis": {"orient": "left", "values": [2, 4, 6, 8], "tickSize": -10, "labelPadding": 15, "title": "fᵥ [mJy]", "titlePadding": 17}}
          }
        },
        {
          "data": {"values": []},
          "mark": {"type": "point", "opacity": 0},
          "encoding": {
            "x": {"field": "w", "type": "quantitative", "axis": {"orient": "top", "values": [4.55, 4.6, 4.65, 4.7, 4.75, 4.8, 4.85], "tickSize": -10, "labels": false, "title": null}},
            "y": {"field": "v", "type": "quantitative", "axis": {"orient": "right", "values": [2, 4, 6, 8], "tickSize": -10, "labels": false, "title": null}}
          }
        },
        {
          "data": {"values": []},
          "mark": {"type": "point", "opacity": 0},
          "encoding": {
            "x": {"field": "w", "type": "quantitative", "axis": {"orient": "bottom", "values": [4.53, 4.54, 4.56, 4.57, 4.58, 4.59, 4.61, 4.62, 4.63, 4.64, 4.66, 4.67, 4.68, 4.69, 4.71, 4.72, 4.73, 4.74, 4.76, 4.77, 4.78, 4.79, 4.81, 4.82, 4.83, 4.84, 4.86], "tickSize": -5, "labels": false, "title": null}},
            "y": {"field": "v", "type": "quantitative", "axis": {"orient": "left", "values": [1.5, 2.5, 3, 3.5, 4.5, 5, 5.5, 6.5, 7, 7.5, 8.5, 9, 9.5], "tickSize": -5, "labels": false, "title": null}}
          }
        },
        {
          "data": {"values": []},
          "mark": {"type": "point", "opacity": 0},
          "encoding": {
            "x": {"field": "w", "type": "quantitative", "axis": {"orient": "top", "values": [4.53, 4.54, 4.56, 4.57, 4.58, 4.59, 4.61, 4.62, 4.63, 4.64, 4.66, 4.67, 4.68, 4.69, 4.71, 4.72, 4.73, 4.74, 4.76, 4.77, 4.78, 4.79, 4.81, 4.82, 4.83, 4.84, 4.86], "tickSize": -5, "labels": false, "title": null}},
            "y": {"field": "v", "type": "quantitative", "axis": {"orient": "right", "values": [1.5, 2.5, 3, 3.5, 4.5, 5, 5.5, 6.5, 7, 7.5, 8.5, 9, 9.5], "tickSize": -5, "labels": false, "title": null}}
          }
        },
        {
          "data": {"name": "colines"},
          "transform": [{"filter": "datum.lam >= 4.60 && datum.lam <= 4.824"}],
          "mark": {"type": "rule", "strokeWidth": 1.2, "strokeDash": [2, 5]},
          "encoding": {
            "x": {"field": "lam", "type": "quantitative", "axis": null},
            "color": {"field": "iso", "type": "nominal", "scale": {"domain": ["12CO", "13CO", "C18O"], "range": ["#a0249f", "#ff8a1c", "#6466c0"]}, "legend": null}
          }
        },
        {
          "data": {"name": "atomic"},
          "mark": {"type": "rule", "strokeWidth": 1.2},
          "encoding": {
            "x": {"field": "lam", "type": "quantitative", "axis": null},
            "stroke": {"field": "name", "type": "nominal", "scale": {"domain": ["H₂ 1-0 O(9)", "[KIII]", "HI 7-5", "H₂ 1-1 S(10)", "HI 11-6", "H₂ 0-0 S(9)"], "range": ["#6e6e6e", "#222", "#222", "#222", "#222", "#222"]}, "legend": null},
            "strokeDash": {"field": "species", "type": "nominal", "scale": {"domain": ["H2", "HI", "K"], "range": [[9, 4], [6, 3, 2, 3], [6, 3, 2, 3]]}, "legend": null}
          }
        },
        {
          "data": {"values": [{}]},
          "mark": {"type": "rect", "color": "#e6e6e6"},
          "encoding": {
            "x": {"datum": 4.5226, "type": "quantitative", "axis": null},
            "x2": {"datum": 4.5601},
            "y": {"datum": 7.87, "type": "quantitative", "axis": null},
            "y2": {"datum": 9.078}
          }
        },
        {
          "data": {"values": [{}]},
          "mark": {"type": "text", "fontSize": 27, "color": "#7cc142", "baseline": "middle", "text": "Emission"},
          "encoding": {
            "x": {"datum": 4.5414, "type": "quantitative", "axis": null},
            "y": {"datum": 8.474, "type": "quantitative", "axis": null}
          }
        },
        {
          "data": {"name": "emission"},
          "mark": {"type": "line", "color": "#77b83a", "strokeWidth": 2, "clip": true},
          "encoding": {
            "x": {"field": "lam", "type": "quantitative", "axis": null},
            "y": {"field": "f", "type": "quantitative", "axis": null}
          }
        }
      ]
    }
  ]
}
